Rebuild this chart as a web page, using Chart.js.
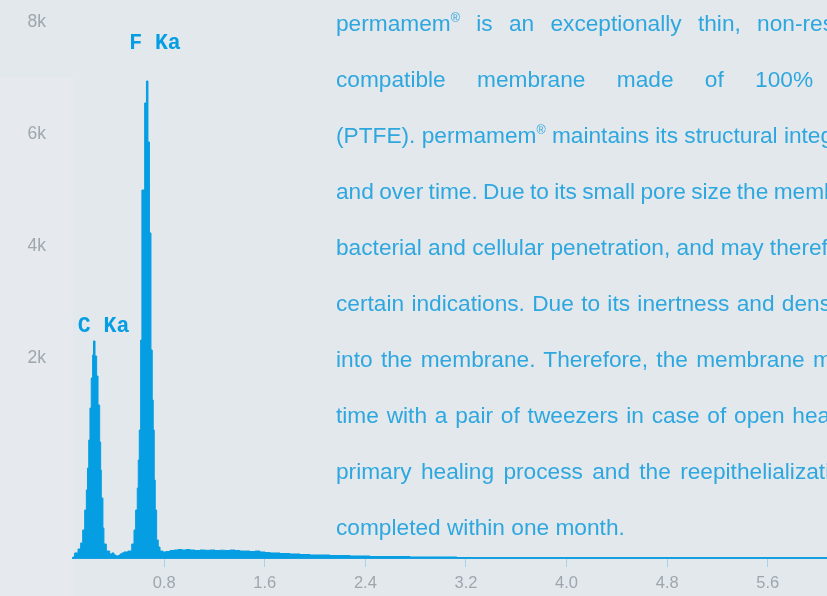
<!DOCTYPE html>
<html>
<head>
<meta charset="utf-8">
<script src="https://cdn.jsdelivr.net/npm/chart.js@4/dist/chart.umd.min.js"></script>
<style>
    html, body { margin: 0; padding: 0; }
    body {
        width: 827px; height: 596px; overflow: hidden; position: relative;
        background: #e3e8ec;
    }
    #panel { position: absolute; left: 0; top: 77px; width: 73px; height: 519px; background: #e6eaee; }
    #chart { position: absolute; left: 0; top: 0; }
    #text {
        position: absolute; left: 336px; top: -5px;
        font-family: 'Liberation Sans', Arial, sans-serif; font-size: 22.7px;
        line-height: 56px; color: #2ea7df; white-space: nowrap;
    }
    #text sup { font-size: 55%; line-height: 0; vertical-align: 0; position: relative; top: -0.75em; }
</style>
</head>
<body>
<div id="panel"></div>
<canvas id="chart" width="827" height="596"></canvas>
<div id="text"></div>
<script>
// Spectrum (energy in keV, counts)
const energy = [
    0.075, 0.088, 0.115, 0.136, 0.152, 0.168, 0.181, 0.190, 0.200, 0.210,
    0.220, 0.231, 0.238, 0.250, 0.263, 0.274, 0.287, 0.295, 0.300, 0.313,
    0.321, 0.340, 0.367, 0.385, 0.401, 0.417, 0.433, 0.449, 0.464, 0.480,
    0.496, 0.512, 0.520, 0.542, 0.560, 0.573, 0.586, 0.594, 0.602, 0.613,
    0.623, 0.645, 0.659, 0.671, 0.683, 0.695, 0.705, 0.713, 0.721, 0.729,
    0.740, 0.753, 0.767, 0.790, 0.814, 0.846, 0.878, 0.910, 0.942, 0.973,
    1.005, 1.045, 1.085, 1.124, 1.164, 1.204, 1.244, 1.283, 1.323, 1.363,
    1.403, 1.442, 1.482, 1.522, 1.562, 1.602, 1.641, 1.681, 1.721, 1.761,
    1.800, 1.840, 1.880, 1.959, 2.039, 2.118, 2.198, 2.278, 2.357, 2.437,
    2.516, 2.596, 2.675, 2.755, 2.834, 2.914, 2.993, 3.073, 3.128, 3.232,
    6.071
];
const counts = [
    15, 75, 134, 224, 418, 716, 1015, 1343, 1761, 2239,
    2687, 3030, 3239, 3015, 2716, 2284, 1731, 1313, 896, 448,
    209, 104, 60, 75, 45, 30, 37, 60, 75, 90,
    90, 104, 104, 209, 418, 716, 1045, 1463, 1910, 3254,
    5492, 6791, 7119, 6209, 4851, 3104, 2358, 1910, 1164, 716,
    269, 164, 104, 90, 97, 112, 119, 127, 119, 127,
    119, 112, 119, 115, 119, 112, 116, 112, 119, 112,
    104, 104, 97, 104, 90, 82, 75, 75, 67, 67,
    60, 60, 52, 45, 45, 37, 37, 30, 30, 22,
    22, 22, 22, 15, 15, 15, 15, 15, 7, 0,
    0
];

// Axis ticks
const xTickValues = [0.8, 1.6, 2.4, 3.2, 4.0, 4.8, 5.6];
const yTickValues = [2985, 4657, 6328, 8000];
const yTickLabels = ['2k', '4k', '6k', '8k'];

// Peak labels
const peakLabels = ['C Ka', 'F Ka'];
const peakEnergies = [0.238, 0.659];

// Paragraph lines
const textLines = [
    'permamem® is an exceptionally thin, non-resorbable, bio-',
    'compatible membrane made of 100% polytetrafluoroethylene',
    '(PTFE). permamem® maintains its structural integrity in situ',
    'and over time. Due to its small pore size the membrane prevents',
    'bacterial and cellular penetration, and may therefore be left open in',
    'certain indications. Due to its inertness and density, no tissue grows',
    'into the membrane. Therefore, the membrane may be removed at any',
    'time with a pair of tweezers in case of open healing. In this case the',
    'primary healing process and the reepithelialization of the wound is',
    'completed within one month.'
];
const wordSpacing = [10, 25, 0, -1, 0, 1, 2, 1.5, 3, 0];

const textBox = document.getElementById('text');
textLines.forEach((line, i) => {
    const div = document.createElement('div');
    div.style.wordSpacing = wordSpacing[i] + 'px';
    line.split('®').forEach((part, j) => {
        if (j > 0) {
            const sup = document.createElement('sup');
            sup.textContent = '®';
            div.appendChild(sup);
        }
        div.appendChild(document.createTextNode(part));
    });
    textBox.appendChild(div);
});

const BLUE = '#069ee2';

const peakLabelPlugin = {
    id: 'peakLabels',
    afterDatasetsDraw(chart, args, opts) {
        const ctx = chart.ctx;
        const xs = chart.scales.x, ys = chart.scales.y;
        ctx.save();
        ctx.font = 'bold 21.5px "Liberation Mono", "Courier New", monospace';
        ctx.fillStyle = BLUE;
        ctx.textAlign = 'center';
        ctx.textBaseline = 'middle';
        peakLabels.forEach((label, i) => {
            const idx = energy.indexOf(peakEnergies[i]);
            const px = xs.getPixelForValue(energy[idx]);
            const py = ys.getPixelForValue(counts[idx]);
            ctx.fillText(label, px + opts.dx[i], py + opts.dy[i]);
        });
        ctx.restore();
    }
};

const ctx = document.getElementById('chart').getContext('2d');

const spectrumChart = new Chart(ctx, {
    type: 'line',
    data: {
        datasets: [{
            data: energy.map((e, i) => ({ x: e, y: counts[i] })),
            borderColor: BLUE,
            backgroundColor: BLUE,
            borderWidth: 1,
            stepped: true,
            fill: 'origin',
            pointRadius: 0,
            tension: 0
        }]
    },
    options: {
        responsive: false,
        animation: false,
        layout: { padding: { top: 22, left: 0, right: 0, bottom: 0 } },
        scales: {
            x: {
                type: 'linear',
                min: 0.075,
                max: 6.071,
                afterBuildTicks: (scale) => {
                    scale.ticks = xTickValues.map(v => ({ value: v }));
                },
                afterFit: (scale) => { scale.height = 38; },
                ticks: {
                    callback: (v) => v.toFixed(1),
                    color: '#9ea6ae',
                    font: { family: 'Liberation Sans', size: 16.5 },
                    padding: 7,
                    maxRotation: 0,
                    autoSkip: false
                },
                grid: {
                    drawOnChartArea: false,
                    drawTicks: true,
                    tickLength: 9,
                    color: '#a5d3ee'
                },
                border: { color: '#1a9fe0', width: 2 }
            },
            y: {
                min: 0,
                max: 8000,
                afterBuildTicks: (scale) => {
                    scale.ticks = yTickValues.map(v => ({ value: v }));
                },
                afterFit: (scale) => {
                    scale.width = 73;
                    scale.paddingTop = 10;
                    scale.paddingBottom = 10;
                },
                ticks: {
                    callback: (v, i) => yTickLabels[i],
                    color: '#9ea6ae',
                    font: { family: 'Liberation Sans', size: 17.5 },
                    padding: 27
                },
                grid: { display: false, drawTicks: false },
                border: { display: false }
            }
        },
        plugins: {
            legend: { display: false },
            tooltip: { enabled: false },
            peakLabels: { dx: [10, 8.5], dy: [-14, -37] }
        }
    },
    plugins: [peakLabelPlugin]
});
</script>
</body>
</html>
